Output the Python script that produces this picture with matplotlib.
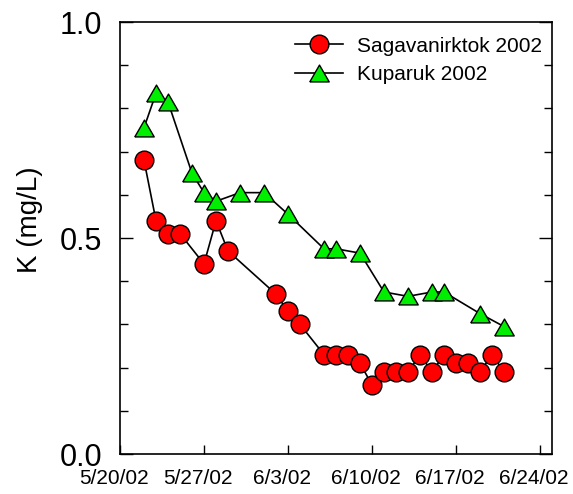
import datetime as dt

import matplotlib
matplotlib.use("Agg")
import matplotlib.pyplot as plt
import matplotlib.dates as mdates
from matplotlib.ticker import MultipleLocator, FixedLocator
from matplotlib.transforms import ScaledTranslation

plt.rcParams['font.family'] = ['Liberation Sans', 'DejaVu Sans']

# Sagavanirktok River 2002
sag_dates = ["2002-05-22", "2002-05-23", "2002-05-24", "2002-05-25", "2002-05-27",
             "2002-05-28", "2002-05-29", "2002-06-02", "2002-06-03", "2002-06-04",
             "2002-06-06", "2002-06-07", "2002-06-08", "2002-06-09", "2002-06-10",
             "2002-06-11", "2002-06-12", "2002-06-13", "2002-06-14", "2002-06-15",
             "2002-06-16", "2002-06-17", "2002-06-18", "2002-06-19", "2002-06-20",
             "2002-06-21"]
sag_k = [0.68, 0.54, 0.51, 0.51, 0.44, 0.54, 0.47, 0.37, 0.33, 0.30,
         0.23, 0.23, 0.23, 0.21, 0.16, 0.19, 0.19, 0.19, 0.23, 0.19,
         0.23, 0.21, 0.21, 0.19, 0.23, 0.19]

# Kuparuk River 2002
kup_dates = ["2002-05-22", "2002-05-23", "2002-05-24", "2002-05-26", "2002-05-27",
             "2002-05-28", "2002-05-30", "2002-06-01", "2002-06-03", "2002-06-06",
             "2002-06-07", "2002-06-09", "2002-06-11", "2002-06-13", "2002-06-15",
             "2002-06-16", "2002-06-19", "2002-06-21"]
kup_k = [0.755, 0.835, 0.815, 0.65, 0.605, 0.585, 0.605, 0.605, 0.555, 0.475,
         0.475, 0.465, 0.375, 0.365, 0.375, 0.375, 0.325, 0.295]

tick_dates = ["2002-05-20", "2002-05-27", "2002-06-03", "2002-06-10", "2002-06-17", "2002-06-24"]
tick_labels = ["5/20/02", "5/27/02", "6/3/02", "6/10/02", "6/17/02", "6/24/02"]
y_ticks = [0.0, 0.5, 1.0]
y_labels = ["0.0", "0.5", "1.0"]


def to_dt(strs):
    return [dt.datetime.strptime(s, "%Y-%m-%d") for s in strs]


# equilateral triangle, centred on its bounding box
tri = [(-1, -0.866), (1, -0.866), (0, 0.866), (-1, -0.866)]

fig = plt.figure(figsize=(5.73, 4.94), dpi=100)
ax = fig.add_axes([120/573, 1 - 454/494, 432/573, 432/494])

ax.plot(to_dt(sag_dates), sag_k, color="black", lw=1.2, marker="o", ms=13.5,
        mfc="#ff0000", mec="black", mew=1.0, label="Sagavanirktok 2002", zorder=3)
ax.plot(to_dt(kup_dates), kup_k, color="black", lw=1.2, marker=tri, ms=14,
        mfc="#00ee00", mec="black", mew=1.0, label="Kuparuk 2002", zorder=3)

ax.set_xlim(dt.datetime(2002, 5, 20), dt.datetime(2002, 6, 25))
ax.set_ylim(0, 1.0)

ax.xaxis.set_major_locator(FixedLocator(mdates.date2num(to_dt(tick_dates))))
ax.set_xticklabels(tick_labels, fontsize=15)
ax.set_yticks(y_ticks)
ax.set_yticklabels(y_labels, fontsize=22)
ax.yaxis.set_minor_locator(MultipleLocator(0.1))

ax.tick_params(axis="x", direction="in", length=6.5, width=1.0, pad=11, top=False)
ax.tick_params(axis="y", which="major", direction="in", length=9.5, width=1.0,
               pad=13, right=True)
ax.tick_params(axis="y", which="minor", direction="in", length=6, width=1.0, right=True)

# labels in the original sit a few pixels left of their ticks
shift = ScaledTranslation(-6/100, 0, fig.dpi_scale_trans)
for lab in ax.get_xticklabels():
    lab.set_transform(lab.get_transform() + shift)

for sp in ax.spines.values():
    sp.set_linewidth(1.2)

ax.set_ylabel("K (mg/L)", fontsize=20)
ax.yaxis.set_label_coords(-0.178, 0.542)

ax.legend(loc="upper left", bbox_to_anchor=(0.405, 0.966), frameon=False,
          fontsize=15, handlelength=2.3, handletextpad=0.66, labelspacing=0.46,
          borderpad=0, borderaxespad=0)

fig.savefig("out.png", dpi=100)
